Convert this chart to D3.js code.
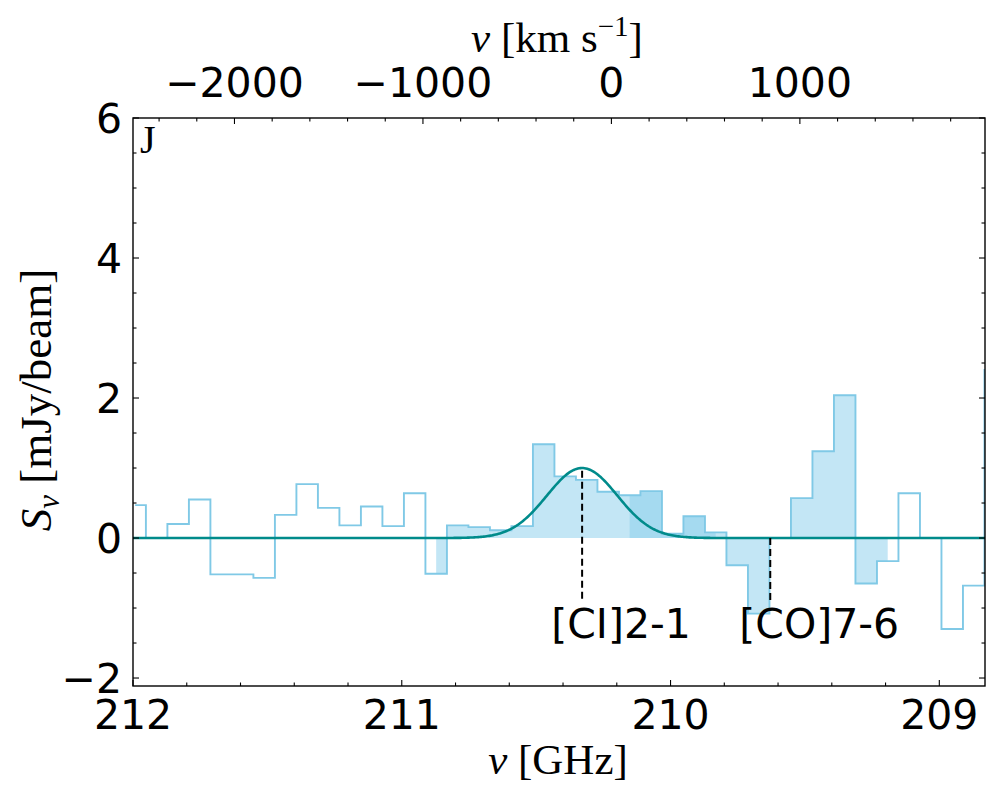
<!DOCTYPE html>
<html>
<head>
<meta charset="utf-8">
<script src="https://cdn.jsdelivr.net/npm/d3@7"></script>
<style>
  body { margin: 0; background: #fff; }
  svg text { fill: #000; }
  .tick-lab { font-family: "DejaVu Sans", sans-serif; font-size: 41px; }
  .math { font-family: "Liberation Serif", serif; }
</style>
</head>
<body>
<svg id="chart" width="1000" height="800"></svg>
<script>
// channel centres (GHz) and flux per channel (mJy/beam)
const freq = [211.992, 211.912, 211.832, 211.752, 211.672, 211.592, 211.512, 211.432,
              211.352, 211.272, 211.192, 211.112, 211.032, 210.952, 210.872, 210.792,
              210.712, 210.632, 210.552, 210.472, 210.392, 210.312, 210.232, 210.152,
              210.072, 209.992, 209.912, 209.832, 209.752, 209.672, 209.592, 209.512,
              209.432, 209.352, 209.272, 209.192, 209.112, 209.032, 208.952, 208.872,
              208.792];
const flux = [0.47, 0.00, 0.20, 0.55, -0.52, -0.52, -0.57, 0.33,
              0.77, 0.43, 0.18, 0.45, 0.17, 0.64, -0.51, 0.18,
              0.155, 0.11, 0.17, 1.34, 0.88, 0.83, 0.66, 0.61,
              0.67, 0.06, 0.31, 0.08, -0.39, -1.08, 0.00, 0.57,
              1.24, 2.04, -0.65, -0.33, 0.64, 0.00, -1.30, -0.68,
              2.40];

// shaded channel ranges (first / last channel index)
const fillFirst = [14, 23];
const fillLast  = [27, 35];

// gaussian fit
const gaussAmp = 1.0, gaussCen = 210.329, gaussSig = 0.131;

// line markers
const lineNames = ["[CI]2-1", "[CO]7-6"];
const lineFreq  = [210.329, 209.629];
const lineTop   = [0.96, 0.0];
const lineBottom = -0.92;

const xTicks = [212, 211, 210, 209];
const yTicks = [-2, 0, 2, 4, 6];
const vTicks = [-2000, -1000, 0, 1000];

const nuRest = 210.22, cLight = 299792.458;

const margin = {top: 118, right: 15, bottom: 114, left: 133};
const W = 1000 - margin.left - margin.right;
const H = 800 - margin.top - margin.bottom;

const svg = d3.select("#chart");
const g = svg.append("g").attr("transform", `translate(${margin.left},${margin.top})`);

const x = d3.scaleLinear().domain([212.0, 208.83]).range([0, W]);
const y = d3.scaleLinear().domain([-2.114, 6]).range([H, 0]);
const toVel = nu => cLight * (nuRest - nu) / nuRest;
const xv = d3.scaleLinear().domain(x.domain().map(toVel)).range([0, W]);

svg.append("defs").append("clipPath").attr("id", "clip")
  .append("rect").attr("width", W).attr("height", H);

const plot = g.append("g").attr("clip-path", "url(#clip)");
const pts = freq.map((f, i) => ({f, s: flux[i]}));

const area = d3.area().curve(d3.curveStep)
  .x(d => x(d.f)).y0(y(0)).y1(d => y(d.s));

fillFirst.forEach((a, k) => {
  plot.append("path")
    .datum(pts.slice(a, fillLast[k] + 1))
    .attr("d", area)
    .attr("fill", "#87ceeb")
    .attr("fill-opacity", 0.5);
});

plot.append("path")
  .datum(pts)
  .attr("d", d3.line().curve(d3.curveStep).x(d => x(d.f)).y(d => y(d.s)))
  .attr("fill", "none")
  .attr("stroke", "#80c9e6")
  .attr("stroke-width", 1.9);

const gx = d3.range(212.05, 208.75, -0.005);
plot.append("path")
  .datum(gx)
  .attr("d", d3.line()
    .x(f => x(f))
    .y(f => y(gaussAmp * Math.exp(-0.5 * Math.pow((f - gaussCen) / gaussSig, 2)))))
  .attr("fill", "none")
  .attr("stroke", "#008b8b")
  .attr("stroke-width", 2.6);

lineFreq.forEach((f, i) => {
  plot.append("line")
    .attr("x1", x(f)).attr("x2", x(f))
    .attr("y1", y(lineTop[i])).attr("y2", y(lineBottom))
    .attr("stroke", "#000").attr("stroke-width", 2)
    .attr("stroke-dasharray", "7,4");
  g.append("text")
    .attr("class", "tick-lab")
    .attr("x", x(f + 0.115)).attr("y", y(-1.43))
    .style("font-size", "41px")
    .text(lineNames[i]);
});

// frame
g.append("rect").attr("width", W).attr("height", H)
  .attr("fill", "none").attr("stroke", "#000").attr("stroke-width", 1.4);

const tickLen = 6, minorLen = 3.5;
const tk = (sel) => sel.attr("stroke", "#000").attr("stroke-width", 1.1);

// bottom axis
const xMinor = d3.range(212.0, 208.8, -0.2);
xMinor.forEach(v => {
  const major = xTicks.some(t => Math.abs(t - v) < 1e-6);
  const L = major ? tickLen : minorLen;
  tk(g.append("line").attr("x1", x(v)).attr("x2", x(v)).attr("y1", H).attr("y2", H - L));
});
xTicks.forEach(t => {
  g.append("text").attr("class", "tick-lab")
    .attr("x", x(t)).attr("y", H + 12).attr("dy", "0.76em")
    .attr("text-anchor", "middle").text(t);
});

// top axis (velocity)
const vMinor = d3.range(-2400, 2000, 200);
vMinor.forEach(v => {
  if (xv(v) < 0 || xv(v) > W) return;
  const L = vTicks.includes(v) ? tickLen : minorLen;
  tk(g.append("line").attr("x1", xv(v)).attr("x2", xv(v)).attr("y1", 0).attr("y2", L));
});
const vFmt = d3.format("d");
vTicks.forEach(t => {
  g.append("text").attr("class", "tick-lab")
    .attr("x", xv(t)).attr("y", -21)
    .attr("text-anchor", "middle").text(vFmt(t));
});

// left / right axes
const yMinor = d3.range(-2, 6.01, 0.5);
yMinor.forEach(v => {
  const L = yTicks.includes(v) ? tickLen : minorLen;
  tk(g.append("line").attr("x1", 0).attr("x2", L).attr("y1", y(v)).attr("y2", y(v)));
  tk(g.append("line").attr("x1", W).attr("x2", W - L).attr("y1", y(v)).attr("y2", y(v)));
});
yTicks.forEach(t => {
  g.append("text").attr("class", "tick-lab")
    .attr("x", -11).attr("y", y(t)).attr("dy", "0.36em")
    .attr("text-anchor", "end").text(vFmt(t));
});

// panel letter
g.append("text").attr("class", "math")
  .attr("x", 7).attr("y", 35).style("font-size", "40px").text("J");

// axis titles
const xt = svg.append("text").attr("class", "math")
  .attr("x", 558).attr("y", 774).attr("text-anchor", "middle").style("font-size", "43px");
xt.append("tspan").attr("font-style", "italic").text("ν");
xt.append("tspan").text(" [GHz]");

const vt = svg.append("text").attr("class", "math")
  .attr("x", 557).attr("y", 52).attr("text-anchor", "middle").style("font-size", "43px");
vt.append("tspan").attr("font-style", "italic").text("v");
vt.append("tspan").text(" [km s");
vt.append("tspan").attr("dy", -16).style("font-size", "29px").text("−1");
vt.append("tspan").attr("dy", 16).text("]");

const yt = svg.append("text").attr("class", "math")
  .attr("transform", "translate(51,400) rotate(-90)")
  .attr("text-anchor", "middle").style("font-size", "45px");
yt.append("tspan").attr("font-style", "italic").text("S");
yt.append("tspan").attr("font-style", "italic").attr("dy", 8).style("font-size", "31px").text("ν");
yt.append("tspan").attr("dy", -8).text(" [mJy/beam]");
</script>
</body>
</html>
